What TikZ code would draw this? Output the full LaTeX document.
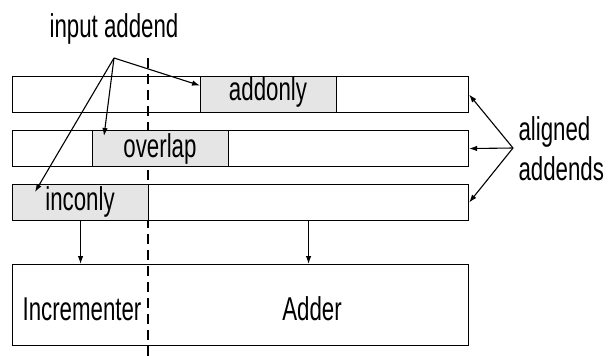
\documentclass[tikz,border=0pt]{standalone}
\usepackage{fontspec}
\setmainfont{Liberation Sans}[FakeStretch=0.675]
\usetikzlibrary{arrows.meta}
\begin{document}
\begin{tikzpicture}[x=1pt,y=-1pt,line width=1.1pt,
  rowbox/.style={draw,minimum width=456pt,minimum height=36pt,inner sep=0pt,anchor=north west},
  part/.style={draw,fill=black!10,minimum width=136pt,minimum height=36pt,inner sep=0pt,anchor=north west},
  lbl/.style={font=\fontsize{33}{38}\selectfont,anchor=base,inner sep=0pt},
  arr/.style={-{Latex[length=8pt,width=5.5pt]}}]
\useasboundingbox (0,0) rectangle (608,356);
% boundary between incrementer and adder parts
\draw[dash pattern=on 10pt off 6pt] (148,58) coordinate (dtop) -- (148,356) coordinate (dbot);
% the three aligned addends
\node[rowbox] (r1) at (12,76) {};
\node[part] (addonly) at (200,76) {};
\node[rowbox] (r2) at (12,130) {};
\node[part] (overlap) at (92,130) {};
\node[rowbox] (r3) at (12,184) {};
\node[part] (inconly) at (12,184) {};
\node[lbl] at (268,100) {addonly};
\node[lbl] at (160,157) {overlap};
\node[lbl] at (80,210) {inconly};
% arithmetic unit
\node[draw,minimum width=456pt,minimum height=81pt,inner sep=0pt,anchor=north west] (unit) at (12,264) {};
\node[lbl] at (82,320) {Incrementer};
\node[lbl] at (312,320) {Adder};
\draw[arr] (inconly.south) -- (inconly.south |- unit.north);
\draw[arr] ([xshift=68pt]r3.south) -- ([xshift=68pt]r3.south |- unit.north);
% input addend callout
\node[lbl] (inp) at (114,37) {input addend};
\coordinate (apex) at (114,58);
\draw[arr] (apex) -- ([yshift=9pt]addonly.west);
\draw[arr] (apex) -- ([xshift=12pt,yshift=-6pt]overlap.north west);
\draw[arr] (apex) -- ([xshift=23pt,yshift=-8pt]inconly.north west);
% aligned addends callout
\node[lbl,anchor=base west] at (518,140) {aligned};
\node[lbl,anchor=base west] at (518,180) {addends};
\coordinate (aa) at (513,148);
\draw[arr] (aa) -- (r1.east);
\draw[arr] (aa) -- (r2.east);
\draw[arr] (aa) -- (r3.east);
\end{tikzpicture}
\end{document}
